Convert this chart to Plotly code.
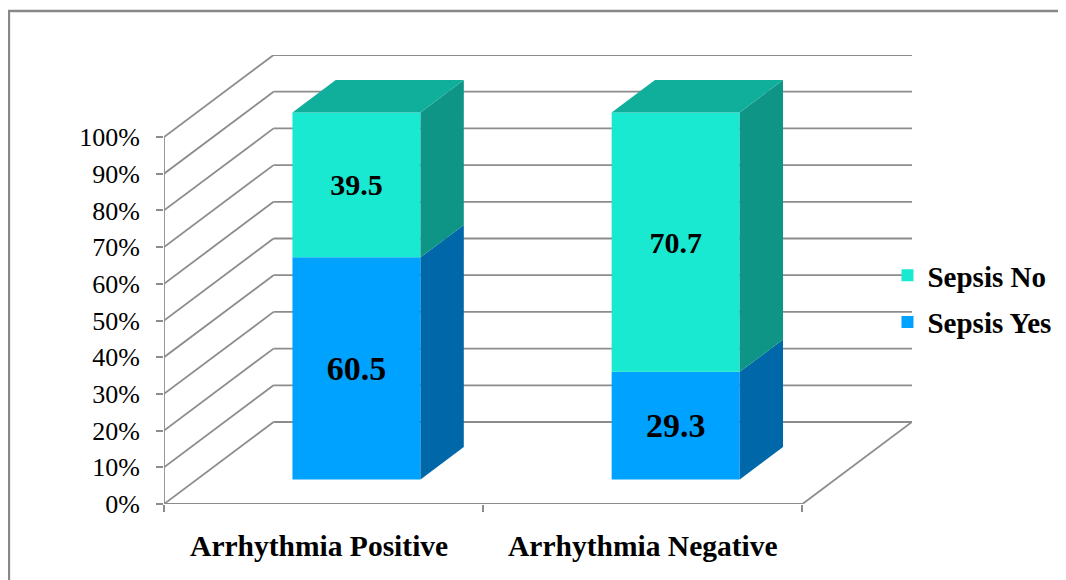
import plotly.graph_objects as go

# ---- data ----
categories = ["Arrhythmia Positive", "Arrhythmia Negative"]
category_label_x = [0.486, 1.5]
sepsis_yes = [60.5, 29.3]
sepsis_no = [39.5, 70.7]
sepsis_yes_text = ["60.5", "29.3"]
sepsis_no_text = ["39.5", "70.7"]
y_ticks = [0, 10, 20, 30, 40, 50, 60, 70, 80, 90, 100]
y_tick_labels = ["0%", "10%", "20%", "30%", "40%", "50%", "60%", "70%", "80%", "90%", "100%"]

# ---- oblique projection: depth 0 (front) .. 1 (back wall) ----
PAGE = 8                   # page margin of the browser body
W, H = 1066 - PAGE, 580 - PAGE
X0, Y0 = 164, 504          # window pixel of the chart origin
PX_X, PX_Y = 319.0, 3.67   # pixels per category / per percent
DEPTH_X = 109.5 / PX_X     # x-units of full depth
DEPTH_Y = 82.0 / PX_Y      # y-units of full depth
BAR_Z0, BAR_Z1 = 0.30, 0.695   # bar front / back depth
BAR_W = 128.0 / PX_X
X_MAX, Y_MAX = 2 + DEPTH_X, 100 + DEPTH_Y
GRID = "#8c8c8c"
FONT = "Liberation Serif"

def proj(x, y, z):
    return x + DEPTH_X * z, y + DEPTH_Y * z

fig = go.Figure()
centres = [i + 0.5 for i in range(len(categories))]

# front faces: stacked bars shifted by the depth of the bar front
cx = [proj(c, 0, BAR_Z0)[0] for c in centres]
base = proj(0, 0, BAR_Z0)[1]
fig.add_trace(go.Bar(x=cx, y=sepsis_yes, base=[base] * 2, width=BAR_W, name="Sepsis Yes",
                     marker=dict(color="#00A2FF", line=dict(width=0)),
                     text=sepsis_yes_text, textposition="inside", insidetextanchor="middle",
                     textangle=0, constraintext="none",
                     textfont=dict(family=FONT, size=34, color="#000000", weight="bold"),
                     legendgroup="yes", legendrank=2))
fig.add_trace(go.Bar(x=cx, y=sepsis_no, base=[base + v for v in sepsis_yes], width=BAR_W, name="Sepsis No",
                     marker=dict(color="#18E9D0", line=dict(width=0)),
                     text=sepsis_no_text, textposition="inside", insidetextanchor="middle",
                     textangle=0, constraintext="none",
                     textfont=dict(family=FONT, size=30, color="#000000", weight="bold"),
                     legendgroup="no", legendrank=1))

def face(points, color):
    xs, ys = zip(*[proj(*p) for p in points])
    fig.add_trace(go.Scatter(x=list(xs) + [xs[0]], y=list(ys) + [ys[0]], mode="lines", fill="toself",
                             fillcolor=color, line=dict(width=0, color=color),
                             hoverinfo="skip", showlegend=False))

for c, yes, no in zip(centres, sepsis_yes, sepsis_no):
    l, r = c - BAR_W / 2, c + BAR_W / 2
    face([(r, 0, BAR_Z0), (r, yes, BAR_Z0), (r, yes, BAR_Z1), (r, 0, BAR_Z1)], "#0068A8")
    face([(r, yes, BAR_Z0), (r, yes + no, BAR_Z0), (r, yes + no, BAR_Z1), (r, yes, BAR_Z1)], "#0E9585")
    face([(l, yes + no, BAR_Z0), (r, yes + no, BAR_Z0), (r, yes + no, BAR_Z1), (l, yes + no, BAR_Z1)], "#10AF9C")

# walls and floor: drawn beneath the bars
def seg(p, q):
    (x0, y0), (x1, y1) = proj(*p), proj(*q)
    fig.add_shape(type="line", x0=x0, y0=y0, x1=x1, y1=y1, xref="x", yref="y", layer="below",
                  line=dict(color=GRID, width=1.8))

for t in y_ticks:
    seg((0, t, 0), (0, t, 1))
    seg((0, t, 1), (2, t, 1))
seg((0, 0, 0), (0, 100, 0))
seg((0, 0, 0), (2, 0, 0))
seg((2, 0, 0), (2, 0, 1))

# outer chart frame (open on the right, where it leaves the picture)
fig.add_shape(type="rect", xref="paper", yref="paper", layer="below",
              x0=(9 - X0) / (X_MAX * PX_X), x1=(1100 - X0) / (X_MAX * PX_X),
              y0=(Y0 - 620) / (Y_MAX * PX_Y), y1=(Y0 - 11) / (Y_MAX * PX_Y),
              line=dict(color="#888888", width=2.5))

fig.update_layout(
    width=W, height=H, autosize=False,
    margin=dict(l=X0 - PAGE, t=round(Y0 - PAGE - Y_MAX * PX_Y), b=H - (Y0 - PAGE),
                r=round(W - (X0 - PAGE) - X_MAX * PX_X), autoexpand=False),
    paper_bgcolor="white", plot_bgcolor="white",
    barmode="overlay", showlegend=True,
    xaxis=dict(range=[0, X_MAX], showgrid=False, zeroline=False, showline=False,
               tickmode="array", tickvals=category_label_x, ticktext=categories, ticks="",
               ticklabelstandoff=21,
               tickfont=dict(family=FONT, size=29.5, color="#000000", weight="bold"),
               minor=dict(tickmode="array", tickvals=[0, 1, 2], ticks="outside", ticklen=7,
                          tickwidth=1.8, tickcolor=GRID, showgrid=False)),
    yaxis=dict(range=[0, Y_MAX], showgrid=False, zeroline=False, showline=False,
               tickmode="array", tickvals=y_ticks, ticktext=y_tick_labels,
               ticks="outside", ticklen=7, tickwidth=1.8, tickcolor=GRID, ticklabelstandoff=11,
               tickfont=dict(family=FONT, size=26, color="#000000")),
    legend=dict(x=(887 - X0) / (X_MAX * PX_X), y=(Y0 - 250) / (Y_MAX * PX_Y),
                xanchor="left", yanchor="top", bgcolor="rgba(0,0,0,0)",
                font=dict(family=FONT, size=29, color="#000000", weight="bold"),
                tracegroupgap=6, itemwidth=30),
)
fig.write_html("out.html")
